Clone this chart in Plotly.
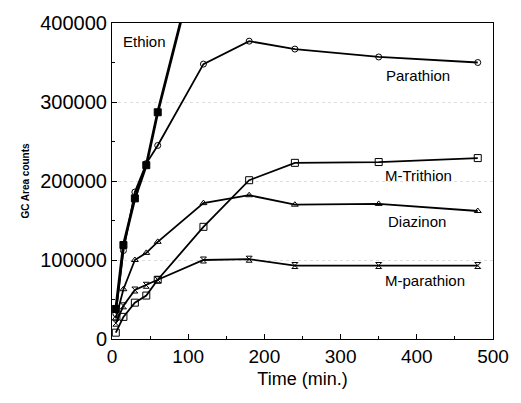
import plotly.graph_objects as go

time = [5, 15, 30, 45, 60, 120, 180, 240, 350, 480]
ethion_t = [5, 15, 30, 45, 60, 120]
ethion = [38000, 119000, 178000, 220000, 287000, 515000]
parathion = [32000, 112000, 186000, 222000, 245000, 348000, 377000, 367000, 357000, 350000]
m_trithion = [8000, 28000, 46000, 55000, 75000, 142000, 201000, 223000, 224000, 229000]
diazinon = [26000, 63000, 100000, 109000, 123000, 172000, 182000, 170000, 171000, 162000]
m_parathion = [20000, 42000, 62000, 68000, 75000, 100000, 101000, 93000, 93000, 93000]

labels = ["Ethion", "Parathion", "M-Trithion", "Diazinon", "M-parathion"]
label_x = [43, 402, 402, 400, 411]
label_y = [377000, 334000, 207000, 148500, 74000]

FONT = "Arial, Liberation Sans, sans-serif"

fig = go.Figure()
series = [
    (ethion_t, ethion, "square", 2.8, 7),
    (time, parathion, "circle-open", 1.8, 6),
    (time, m_trithion, "square-open", 1.8, 7),
    (time, diazinon, "triangle-up-open", 1.8, 6),
    (time, m_parathion, "hourglass-open", 1.8, 6),
]
for (xs, ys, sym, w, sz), name in zip(series, labels):
    fig.add_trace(go.Scatter(
        x=xs, y=ys, mode="lines+markers", name=name,
        line=dict(color="black", width=w),
        marker=dict(symbol=sym, size=sz, color="black",
                    line=dict(color="black", width=1)),
        cliponaxis=True, showlegend=False,
    ))

for t, x, y in zip(labels, label_x, label_y):
    fig.add_annotation(x=x, y=y, text=t, showarrow=False,
                       font=dict(family=FONT, size=15, color="black"))

fig.update_layout(
    width=521, height=403,
    margin=dict(l=112, r=16, t=23, b=64),
    paper_bgcolor="white", plot_bgcolor="white",
    font=dict(family=FONT, color="black"),
    xaxis=dict(
        range=[0, 500], tickvals=[0, 100, 200, 300, 400, 500],
        ticks="inside", ticklen=5, tickcolor="black",
        minor=dict(dtick=50, ticks="inside", ticklen=3, tickcolor="black"),
        showline=True, linecolor="black", linewidth=1, mirror=True,
        showgrid=False, zeroline=False,
        tickfont=dict(size=19, family=FONT),
        title=dict(text="Time (min.)", font=dict(size=18, family=FONT), standoff=6),
    ),
    yaxis=dict(
        range=[0, 400000], tickvals=[0, 100000, 200000, 300000, 400000],
        ticktext=["0", "100000", "200000", "300000", "400000"],
        ticks="inside", ticklen=5, tickcolor="black",
        minor=dict(dtick=50000, ticks="inside", ticklen=3, tickcolor="black"),
        showline=True, linecolor="black", linewidth=1, mirror=True,
        showgrid=True, gridcolor="#dddddd", griddash="dot", gridwidth=1,
        zeroline=False,
        tickfont=dict(size=20, family=FONT),
        title=dict(text="<b>GC Area counts</b>", font=dict(size=10, family=FONT), standoff=8),
    ),
)

fig.write_html("out.html")
